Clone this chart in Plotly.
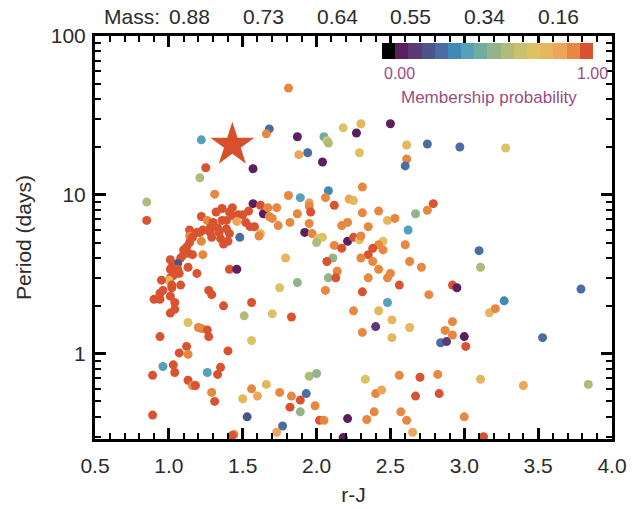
import plotly.graph_objects as go
import numpy as np

# ---- data (r-J colour, period in days, membership probability) ----
r_j = [1.81, 1.68, 1.66, 1.22, 1.87, 2.05, 2.07, 2.08, 2.18, 1.88, 1.94, 2.04, 1.25, 1.57, 1.21, 1.31,
       0.85, 0.85, 1.81, 1.89, 2.08, 2.06, 1.95, 1.95, 2.12, 2.22, 1.57, 1.62, 1.64, 1.67, 1.73, 1.68,
       1.70, 1.87, 1.96, 1.74, 1.82, 1.95, 1.92, 1.97, 2.01, 2.04, 2.00, 2.17, 2.21, 2.21, 2.12, 2.17,
       2.11, 2.07, 2.14, 2.08, 2.13, 1.79, 1.48, 1.62, 1.61, 1.41, 1.46,
       1.22, 1.26, 1.32, 1.36, 1.41, 1.43, 1.43, 1.47, 1.50, 1.54, 1.52, 1.55, 1.58, 1.46, 1.39, 1.36,
       1.30, 1.28, 1.33, 1.34, 1.39, 1.41, 1.35, 1.40, 1.37, 1.29, 1.28, 1.23, 1.21, 1.19, 1.22, 1.14,
       1.14, 1.16, 1.14, 1.12, 1.10, 1.13, 1.16, 1.23, 1.10, 1.08, 1.06, 1.01, 1.02, 1.06, 1.07, 1.03,
       1.01, 1.13, 1.19, 1.01, 1.00, 0.95, 1.02, 1.02, 1.08, 0.96, 0.94, 0.90, 0.94, 1.01, 1.04, 1.04,
       1.01, 1.27, 1.29, 1.37, 1.56, 1.51, 1.70, 1.83, 1.75, 1.87, 2.06, 1.13, 1.20, 1.22, 1.26, 1.27,
       0.94, 1.56, 1.40, 1.12, 1.13, 1.07, 1.03, 1.04, 0.96, 0.89, 1.26, 1.35, 1.33, 1.13, 1.16, 1.18,
       1.29, 1.31, 0.89, 1.56, 1.66, 1.50, 1.60, 1.75, 1.83, 1.89, 1.93, 1.82, 1.89, 1.95, 2.00, 1.99,
       2.02, 2.05, 2.21, 1.53, 1.77, 1.73, 1.44, 1.43, 2.18,
       2.30, 2.27, 2.50, 2.29, 2.61, 2.61, 2.60, 2.75, 2.97, 3.28, 2.31, 2.25, 2.31, 2.42, 2.79, 2.75,
       2.67, 2.35, 2.48, 2.53, 2.62, 2.25, 2.29, 2.30, 2.45, 2.42, 2.38, 2.45, 2.60, 2.35, 2.38, 2.30,
       2.42, 2.50, 2.63, 2.71, 3.10, 3.11, 2.35, 2.48,
       2.56, 2.31, 2.92, 2.95, 2.76, 2.48, 2.25, 2.42, 2.51, 2.63, 2.40, 2.31, 2.51, 2.92, 2.87, 2.92,
       3.00, 2.84, 2.88, 3.01, 3.17, 3.21, 3.27, 3.53, 3.79, 2.33, 2.56, 2.70, 2.82, 2.40, 2.44, 2.67,
       2.83, 3.11, 3.40, 3.84, 2.39, 2.57, 2.61, 2.34, 3.00, 2.65, 3.13]

period = [47.0, 26.0, 24.2, 22.2, 23.2, 23.2, 21.9, 21.2, 26.4, 17.9, 18.4, 16.1, 14.8, 14.6, 12.8, 10.1,
          9.0, 6.9, 9.9, 9.6, 10.6, 9.6, 8.9, 8.5, 8.6, 9.4, 8.8, 8.6, 7.6, 8.3, 8.3, 7.3,
          7.1, 7.6, 7.8, 6.4, 6.7, 6.6, 5.8, 5.7, 5.3, 5.4, 5.0, 6.4, 6.7, 5.1, 4.8, 4.6,
          4.0, 3.8, 3.3, 3.0, 3.0, 4.0, 5.4, 5.7, 5.5, 3.4, 3.4,
          7.3, 6.9, 7.8, 8.2, 7.8, 8.3, 7.4, 7.5, 7.5, 7.9, 6.7, 6.3, 6.3, 6.8, 6.9, 6.9,
          6.7, 6.2, 6.2, 5.8, 6.1, 5.7, 5.3, 5.1, 4.9, 5.4, 5.8, 6.0, 5.8, 5.8, 5.1, 6.0,
          5.5, 5.4, 5.0, 4.7, 4.5, 4.3, 4.2, 4.2, 4.2, 4.0, 3.7, 3.9, 3.5, 3.4, 3.2, 3.1,
          3.4, 3.5, 3.2, 3.0, 2.9, 2.9, 2.7, 2.6, 2.7, 2.5, 2.4, 2.2, 2.2, 2.3, 2.1, 1.9,
          1.8, 2.5, 2.35, 2.0, 2.1, 1.73, 1.78, 1.70, 2.6, 2.8, 2.5, 1.57, 1.46, 1.44, 1.41, 1.28,
          1.28, 1.21, 1.04, 1.11, 0.99, 1.01, 0.85, 0.76, 0.83, 0.73, 0.76, 0.82, 0.74, 0.68, 0.63, 0.63,
          0.57, 0.50, 0.41, 0.60, 0.64, 0.52, 0.54, 0.57, 0.54, 0.51, 0.56, 0.46, 0.43, 0.72, 0.75, 0.47,
          0.38, 0.38, 0.39, 0.40, 0.35, 0.32, 0.31, 0.305, 0.296,
          28.0, 24.5, 28.0, 18.4, 20.6, 16.8, 15.2, 20.9, 20.0, 19.7, 11.2, 9.2, 7.7, 7.9, 8.8, 8.0,
          7.6, 6.3, 6.9, 7.1, 6.0, 5.4, 5.2, 5.5, 5.1, 4.85, 4.6, 4.5, 4.85, 4.2, 3.8, 4.0,
          3.4, 3.2, 3.8, 3.5, 4.45, 3.5, 3.0, 3.0,
          2.7, 2.45, 2.7, 2.6, 2.35, 2.1, 1.86, 1.86, 1.63, 1.46, 1.48, 1.36, 1.26, 1.59, 1.40, 1.31,
          1.28, 1.17, 1.19, 1.11, 1.81, 1.92, 2.15, 1.26, 2.55, 0.69, 0.73, 0.71, 0.74, 0.56, 0.59, 0.54,
          0.56, 0.69, 0.63, 0.64, 0.43, 0.43, 0.38, 0.385, 0.40, 0.32, 0.30]

prob = [0.90, 0.30, 0.90, 0.40, 0.09, 0.47, 0.72, 0.62, 0.72, 0.84, 0.30, 0.09, 0.97, 0.12, 0.62, 0.90,
        0.62, 0.97, 0.90, 0.40, 0.32, 0.90, 0.84, 0.90, 0.97, 0.82, 0.12, 0.97, 0.12, 0.90, 0.90, 0.90,
        0.90, 0.90, 0.97, 0.90, 0.90, 0.90, 0.12, 0.90, 0.72, 0.72, 0.60, 0.90, 0.88, 0.12, 0.90, 0.97,
        0.50, 0.97, 0.90, 0.50, 0.97, 0.78, 0.28, 0.80, 0.90, 0.97, 0.12,
        0.97, 0.90, 0.97, 0.97, 0.97, 0.97, 0.97, 0.97, 0.97, 0.97, 0.97, 0.97, 0.97, 0.84, 0.97, 0.97,
        0.97, 0.97, 0.97, 0.97, 0.97, 0.97, 0.97, 0.97, 0.97, 0.97, 0.97, 0.97, 0.97, 0.97, 0.90, 0.97,
        0.90, 0.97, 0.97, 0.97, 0.97, 0.97, 0.97, 0.90, 0.97, 0.97, 0.22, 0.97, 0.97, 0.97, 0.97, 0.97,
        0.97, 0.97, 0.97, 0.97, 0.80, 0.97, 0.97, 0.97, 0.97, 0.97, 0.97, 0.97, 0.97, 0.97, 0.97, 0.97,
        0.97, 0.97, 0.97, 0.97, 0.97, 0.62, 0.72, 0.97, 0.72, 0.50, 0.88, 0.72, 0.90, 0.88, 0.97, 0.97,
        0.97, 0.72, 0.97, 0.97, 0.90, 0.97, 0.97, 0.97, 0.40, 0.97, 0.42, 0.97, 0.97, 0.97, 0.90, 0.97,
        0.90, 0.97, 0.97, 0.90, 0.78, 0.80, 0.86, 0.90, 0.90, 0.95, 0.28, 0.95, 0.50, 0.62, 0.52, 0.90,
        0.95, 0.88, 0.12, 0.22, 0.28, 0.86, 0.90, 0.95, 0.12,
        0.80, 0.09, 0.12, 0.72, 0.80, 0.90, 0.30, 0.30, 0.30, 0.70, 0.90, 0.80, 0.90, 0.90, 0.97, 0.88,
        0.52, 0.90, 0.80, 0.90, 0.40, 0.95, 0.72, 0.90, 0.72, 0.90, 0.95, 0.90, 0.88, 0.95, 0.93, 0.90,
        0.90, 0.90, 0.88, 0.90, 0.30, 0.62, 0.90, 0.90,
        0.95, 0.95, 0.95, 0.12, 0.90, 0.40, 0.90, 0.80, 0.80, 0.80, 0.14, 0.90, 0.80, 0.90, 0.90, 0.90,
        0.12, 0.28, 0.15, 0.95, 0.80, 0.88, 0.32, 0.26, 0.30, 0.70, 0.93, 0.95, 0.88, 0.88, 0.84, 0.95,
        0.95, 0.80, 0.86, 0.62, 0.90, 0.88, 0.88, 0.90, 0.90, 0.86, 0.95]

star_rj = [1.43]
star_period = [20.6]

x_ticks = [0.5, 1.0, 1.5, 2.0, 2.5, 3.0, 3.5, 4.0]
mass_pos = [1.0, 1.5, 2.0, 2.5, 3.0, 3.5]
mass_labels = ["0.88", "0.73", "0.64", "0.55", "0.34", "0.16"]

palette = ["#000000", "#5b1f5d", "#5c3a76", "#4b5589", "#4a6ea3", "#3f89b6", "#55a0bb", "#6fae9f",
           "#93b38a", "#afbb79", "#cbc06d", "#dcc262", "#e6b65a", "#eca55a", "#e8873f", "#da5330"]

n = len(palette)
cscale = []
for i, c in enumerate(palette):
    cscale.append([i / n, c])
    cscale.append([(i + 1) / n, c])

FONT = "Liberation Sans, Arial, Helvetica, sans-serif"
TXT = "#2b2b2b"
MAG = "#9c4d80"

fig = go.Figure()
fig.add_trace(go.Scatter(
    x=r_j, y=period, mode="markers",
    marker=dict(size=9, color=prob, colorscale=cscale, cmin=0, cmax=1, line=dict(width=0),
                showscale=True,
                colorbar=dict(orientation="h", x=0.760, xanchor="center", y=0.962, yanchor="middle",
                              len=211, lenmode="pixels", thickness=16, thicknessmode="pixels",
                              xpad=0, ypad=0,
                              showticklabels=False, ticks="", outlinewidth=0)),
    showlegend=False, hoverinfo="skip"))

fig.add_trace(go.Scatter(
    x=star_rj, y=star_period, mode="markers",
    marker=dict(symbol="star", size=33, color="#d84f2c", line=dict(width=0)),
    showlegend=False, hoverinfo="skip"))

minor_y = [v * 10 ** d for d in (-1, 0, 1) for v in range(2, 10)]
minor_y = [v for v in minor_y if v >= 0.29]

axis_common = dict(showline=True, linecolor="black", linewidth=3, mirror="allticks",
                   ticks="inside", ticklen=11, tickwidth=2.5, tickcolor="black",
                   showgrid=False, zeroline=False, automargin=False,
                   tickfont=dict(family=FONT, size=21, color=TXT))

fig.update_xaxes(range=[0.5, 4.0], tickvals=x_ticks, tickformat=".1f", ticklabelstandoff=6,
                 minor=dict(dtick=0.1, tick0=0.5, ticks="inside", ticklen=6, tickwidth=2, tickcolor="black"),
                 title=dict(text="r-J", font=dict(family=FONT, size=21, color=TXT), standoff=12),
                 **axis_common)
fig.update_yaxes(type="log", range=[np.log10(0.29), 2], tickvals=[1, 10, 100], ticktext=["1", "10", "100"],
                 ticklabelstandoff=2,
                 minor=dict(tickvals=minor_y, ticks="inside", ticklen=6, tickwidth=2, tickcolor="black"),
                 title=dict(text="Period (days)", font=dict(family=FONT, size=21, color=TXT), standoff=14),
                 **axis_common)

ann = [dict(x=0.955, y=1, xref="x", yref="paper", text="Mass:", xanchor="right", yanchor="bottom",
            yshift=6, showarrow=False, font=dict(family=FONT, size=21, color=TXT))]
for p, lab in zip(mass_pos, mass_labels):
    ann.append(dict(x=p, y=1, xref="x", yref="paper", text=lab, xanchor="left", yanchor="bottom",
                    yshift=6, xshift=-2, showarrow=False, font=dict(family=FONT, size=21, color=TXT)))
# colorbar labels
ann.append(dict(x=(382 - 95) / 517, y=(439 - 73) / 403, xref="paper", yref="paper", text="0.00",
                xanchor="left", yanchor="middle", showarrow=False, font=dict(family=FONT, size=16, color=MAG)))
ann.append(dict(x=(610 - 95) / 517, y=(439 - 73) / 403, xref="paper", yref="paper", text="1.00",
                xanchor="right", yanchor="middle", showarrow=False, font=dict(family=FONT, size=16, color=MAG)))
ann.append(dict(x=(489 - 95) / 517, y=(439 - 97) / 403, xref="paper", yref="paper",
                text="Membership probability", xanchor="center", yanchor="middle", showarrow=False,
                font=dict(family=FONT, size=17, color=MAG)))

fig.update_layout(width=632, height=509, margin=dict(l=95, r=20, t=36, b=70),
                  paper_bgcolor="white", plot_bgcolor="white", annotations=ann)

fig.write_html("out.html")
